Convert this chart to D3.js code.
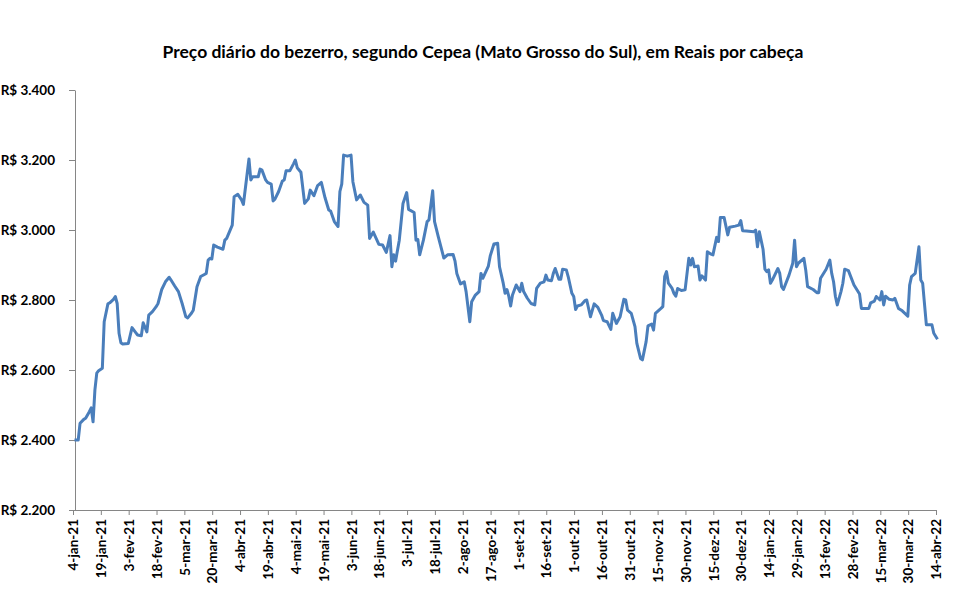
<!DOCTYPE html>
<html lang="pt">
<head>
  <meta charset="utf-8">
  <title>Preço diário do bezerro</title>
  <style>
    body { margin: 0; background: #fff; font-family: Lato, "Open Sans", sans-serif; }
    .title { font-weight: bold; font-size: 17.5px; fill: #000; }
    .axis text { font-weight: bold; font-size: 13.5px; fill: #000; font-family: Lato, sans-serif; }
    .axis path, .axis line { stroke: #868686; }
  </style>
</head>
<body>
  <svg id="chart" width="960" height="593"></svg>

  <script src="https://d3js.org/d3.v7.min.js"></script>
  <script>
    // Datas (dias do pregão) e preço em R$ por cabeça
    const dates = [
      "2021-01-04","2021-01-06","2021-01-07","2021-01-09","2021-01-10","2021-01-12","2021-01-13","2021-01-14","2021-01-15","2021-01-16",
      "2021-01-17","2021-01-19","2021-01-20","2021-01-22","2021-01-23","2021-01-25","2021-01-26","2021-01-27","2021-01-28","2021-01-29",
      "2021-01-30","2021-02-02","2021-02-04","2021-02-06","2021-02-07","2021-02-09","2021-02-10","2021-02-12","2021-02-13","2021-02-15",
      "2021-02-17","2021-02-18","2021-02-20","2021-02-22","2021-02-24","2021-02-25","2021-02-27","2021-03-01","2021-03-03","2021-03-05",
      "2021-03-06","2021-03-08","2021-03-09","2021-03-11","2021-03-13","2021-03-15","2021-03-16","2021-03-17","2021-03-18","2021-03-19",
      "2021-03-20","2021-03-22","2021-03-25","2021-03-26","2021-03-27","2021-03-30","2021-03-31","2021-04-02","2021-04-04","2021-04-05",
      "2021-04-08","2021-04-09","2021-04-10","2021-04-13","2021-04-14","2021-04-15","2021-04-17","2021-04-18","2021-04-20","2021-04-21",
      "2021-04-22","2021-04-24","2021-04-26","2021-04-27","2021-04-28","2021-04-30","2021-05-02","2021-05-03","2021-05-04","2021-05-06",
      "2021-05-08","2021-05-10","2021-05-11","2021-05-13","2021-05-15","2021-05-17","2021-05-19","2021-05-21","2021-05-22","2021-05-24",
      "2021-05-26","2021-05-27","2021-05-28","2021-05-29","2021-05-31","2021-06-02","2021-06-03","2021-06-05","2021-06-07","2021-06-09",
      "2021-06-11","2021-06-12","2021-06-14","2021-06-17","2021-06-19","2021-06-21","2021-06-23","2021-06-24","2021-06-25","2021-06-26",
      "2021-06-28","2021-06-30","2021-07-02","2021-07-03","2021-07-06","2021-07-07","2021-07-08","2021-07-09","2021-07-11","2021-07-13",
      "2021-07-14","2021-07-16","2021-07-17","2021-07-19","2021-07-22","2021-07-24","2021-07-27","2021-07-28","2021-07-29","2021-07-31",
      "2021-08-02","2021-08-03","2021-08-05","2021-08-06","2021-08-08","2021-08-10","2021-08-11","2021-08-12","2021-08-15","2021-08-16",
      "2021-08-18","2021-08-20","2021-08-21","2021-08-23","2021-08-24","2021-08-25","2021-08-26","2021-08-27","2021-08-28","2021-08-30",
      "2021-09-01","2021-09-02","2021-09-03","2021-09-05","2021-09-07","2021-09-09","2021-09-10","2021-09-12","2021-09-14","2021-09-15",
      "2021-09-16","2021-09-18","2021-09-19","2021-09-20","2021-09-22","2021-09-23","2021-09-24","2021-09-26","2021-09-27","2021-09-29",
      "2021-09-30","2021-10-01","2021-10-02","2021-10-04","2021-10-06","2021-10-07","2021-10-09","2021-10-11","2021-10-13","2021-10-15",
      "2021-10-16","2021-10-18","2021-10-20","2021-10-21","2021-10-23","2021-10-25","2021-10-27","2021-10-28","2021-10-29","2021-10-31",
      "2021-11-02","2021-11-03","2021-11-05","2021-11-06","2021-11-08","2021-11-09","2021-11-11","2021-11-12","2021-11-13","2021-11-16",
      "2021-11-17","2021-11-18","2021-11-19","2021-11-20","2021-11-22","2021-11-23","2021-11-24","2021-11-25","2021-11-27","2021-11-29",
      "2021-12-01","2021-12-02","2021-12-03","2021-12-04","2021-12-06","2021-12-07","2021-12-08","2021-12-10","2021-12-11","2021-12-13",
      "2021-12-14","2021-12-16","2021-12-17","2021-12-18","2021-12-20","2021-12-22","2021-12-23","2021-12-26","2021-12-28","2021-12-29",
      "2021-12-30","2022-01-01","2022-01-05","2022-01-06","2022-01-07","2022-01-08","2022-01-10","2022-01-11","2022-01-12","2022-01-13",
      "2022-01-14","2022-01-15","2022-01-18","2022-01-19","2022-01-20","2022-01-21","2022-01-24","2022-01-26","2022-01-27","2022-01-28",
      "2022-01-29","2022-02-01","2022-02-02","2022-02-03","2022-02-06","2022-02-08","2022-02-09","2022-02-10","2022-02-13","2022-02-15",
      "2022-02-16","2022-02-17","2022-02-18","2022-02-19","2022-02-21","2022-02-22","2022-02-23","2022-02-25","2022-02-28","2022-03-03",
      "2022-03-04","2022-03-07","2022-03-08","2022-03-09","2022-03-11","2022-03-12","2022-03-14","2022-03-15","2022-03-16","2022-03-17",
      "2022-03-19","2022-03-21","2022-03-22","2022-03-24","2022-03-26","2022-03-29","2022-03-30","2022-03-31","2022-04-02","2022-04-04",
      "2022-04-05","2022-04-06","2022-04-08","2022-04-11","2022-04-12","2022-04-14"
    ];

    const prices = [
      2400,2400,2448,2459,2462,2481,2492,2452,2543,2591,
      2598,2605,2738,2789,2792,2802,2810,2790,2705,2678,
      2674,2676,2721,2707,2700,2698,2735,2709,2757,2767,
      2781,2790,2830,2852,2865,2857,2840,2824,2790,2752,
      2749,2762,2771,2838,2867,2873,2876,2914,2919,2917,
      2957,2951,2945,2971,2976,3014,3095,3102,3086,3073,
      3203,3143,3152,3152,3174,3171,3143,3136,3131,3083,
      3088,3110,3140,3143,3169,3169,3189,3200,3178,3165,
      3076,3089,3114,3098,3127,3136,3092,3057,3054,3024,
      3010,3110,3131,3214,3211,3214,3138,3086,3100,3079,
      3071,2976,2994,2959,2957,2936,2984,2895,2929,2911,
      2971,3076,3107,3059,3050,2971,2973,2929,2971,3024,
      3029,3112,3024,2981,2920,2929,2930,2912,2876,2846,
      2852,2824,2738,2795,2814,2824,2876,2862,2897,2926,
      2960,2962,2895,2848,2819,2830,2811,2783,2814,2843,
      2824,2848,2824,2805,2790,2786,2833,2848,2852,2871,
      2857,2855,2876,2890,2859,2859,2888,2886,2867,2819,
      2810,2773,2783,2786,2798,2800,2752,2789,2779,2757,
      2741,2738,2716,2762,2733,2752,2802,2800,2771,2762,
      2724,2676,2633,2629,2681,2726,2731,2714,2762,2776,
      2781,2867,2881,2848,2833,2819,2811,2833,2827,2829,
      2919,2900,2919,2895,2897,2857,2869,2857,2938,2931,
      2929,2979,2967,3036,3036,2986,3008,3011,3014,3027,
      2998,2997,2995,3000,2952,2995,2945,2888,2881,2886,
      2848,2857,2890,2876,2838,2830,2871,2905,2971,2895,
      2905,2919,2886,2838,2830,2821,2821,2862,2888,2914,
      2876,2852,2810,2786,2824,2848,2888,2884,2843,2817,
      2776,2776,2776,2792,2797,2810,2800,2824,2786,2811,
      2802,2800,2805,2776,2769,2754,2843,2867,2876,2952,
      2857,2848,2729,2729,2705,2688
    ];

    const yTicks = [2200, 2400, 2600, 2800, 3000, 3200, 3400];
    const meses = ["jan","fev","mar","abr","mai","jun","jul","ago","set","out","nov","dez"];
    const firstDay = "2021-01-04";
    const lastDay = "2022-04-14";
    const titleText = "Preço diário do bezerro, segundo Cepea (Mato Grosso do Sul), em Reais por cabeça";

    const parse = d3.utcParse("%Y-%m-%d");
    const data = dates.map((d, i) => ({ date: parse(d), value: prices[i] }));

    const svg = d3.select("#chart");
    const margin = { left: 75, right: 24, top: 90, bottom: 83 };
    const width = 960, height = 593;

    const x = d3.scaleUtc()
      .domain([parse(firstDay), parse(lastDay)])
      .range([margin.left - 2, width - margin.right]);

    const y = d3.scaleLinear()
      .domain([2200, 3400])
      .range([height - margin.bottom, margin.top]);

    const real = d3.formatLocale({ decimal: ",", thousands: ".", grouping: [3], currency: ["R$ ", ""] });
    const fmtY = real.format("$,.0f");
    const fmtX = d => `${d.getUTCDate()}-${meses[d.getUTCMonth()]}-${String(d.getUTCFullYear()).slice(2)}`;

    svg.append("text")
      .attr("class", "title")
      .attr("x", 483)
      .attr("y", 58)
      .attr("text-anchor", "middle")
      .text(titleText);

    // eixo Y
    svg.append("g")
      .attr("class", "axis")
      .attr("transform", `translate(${margin.left},0)`)
      .call(d3.axisLeft(y).tickValues(yTicks).tickFormat(fmtY).tickSizeInner(6).tickSizeOuter(0).tickPadding(14));

    // eixo X, marca a cada 15 dias
    const xTicks = d3.utcDay.range(parse(firstDay), d3.utcDay.offset(parse(lastDay), 1), 15);
    const gx = svg.append("g")
      .attr("class", "axis")
      .attr("transform", `translate(0,${y(2200)})`)
      .call(d3.axisBottom(x).tickValues(xTicks).tickFormat(fmtX).tickSizeInner(5).tickSizeOuter(0));

    gx.select(".domain").attr("d", `M${margin.left},0.5H${x(parse(lastDay))}`);

    gx.selectAll("text")
      .attr("transform", "rotate(-90)")
      .attr("text-anchor", "end")
      .attr("x", -9)
      .attr("y", 0)
      .attr("dy", "0.35em");

    const line = d3.line()
      .x(d => x(d.date) + 1.5)
      .y(d => y(d.value));

    svg.append("path")
      .datum(data)
      .attr("fill", "none")
      .attr("stroke", "#4a7ebb")
      .attr("stroke-width", 3)
      .attr("stroke-linejoin", "round")
      .attr("d", line);
  </script>
</body>
</html>
